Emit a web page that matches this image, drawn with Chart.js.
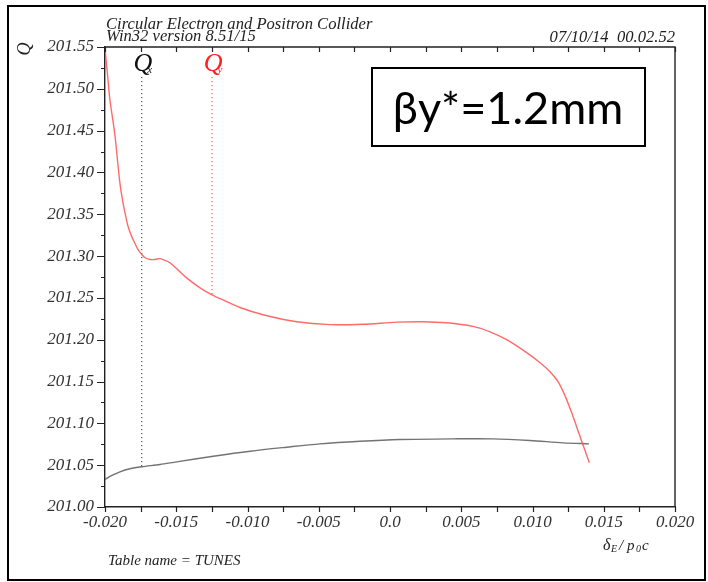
<!DOCTYPE html>
<html>
<head>
<meta charset="utf-8">
<script src="https://cdn.jsdelivr.net/npm/chart.js@4/dist/chart.umd.min.js"></script>
<style>
  html, body { margin: 0; padding: 0; background: #ffffff; }
  #wrap { width: 708px; height: 582px; position: relative; }
</style>
</head>
<body>
<div id="wrap"><canvas id="tunes" width="708" height="582"></canvas></div>
<script>
// Tune Q versus relative momentum deviation dE/(p0 c), table TUNES
const deltaQy = [-0.02000, -0.01982, -0.01965, -0.01947, -0.01930, -0.01912, -0.01895, -0.01877,
  -0.01860, -0.01839, -0.01812, -0.01789, -0.01766, -0.01742, -0.01719, -0.01684, -0.01649,
  -0.01614, -0.01579, -0.01544, -0.01488, -0.01427, -0.01333, -0.01249, -0.01158, -0.01053,
  -0.00891, -0.00655, -0.00421, -0.00189, 0.00047, 0.00232, 0.00398, 0.00582, 0.00702,
  0.00819, 0.00959, 0.01053, 0.01123, 0.01179, 0.01228, 0.01277, 0.01333, 0.01399];
const qyValues = [201.548, 201.516, 201.486, 201.465, 201.444, 201.414, 201.387, 201.367,
  201.352, 201.336, 201.323, 201.315, 201.307, 201.302, 201.298, 201.296, 201.296,
  201.297, 201.295, 201.292, 201.2835, 201.274, 201.262, 201.2537, 201.2465, 201.2385,
  201.2298, 201.2215, 201.218, 201.2185, 201.221, 201.2215, 201.2203, 201.216, 201.2095,
  201.200, 201.1845, 201.1725, 201.1618, 201.150, 201.1332, 201.1117, 201.0846, 201.0529];

const deltaQx = [-0.02000, -0.01951, -0.01895, -0.01825, -0.01742, -0.01614, -0.01497, -0.01240,
  -0.00982, -0.00725, -0.00491, -0.00211, 0.00070, 0.00442, 0.00723, 0.00982, 0.01216, 0.01396];
const qxValues = [201.0329, 201.0377, 201.0421, 201.0457, 201.0481, 201.0508, 201.054, 201.0607,
  201.0667, 201.0715, 201.0755, 201.0786, 201.0807, 201.0815, 201.0815, 201.0795, 201.0767, 201.0755];

// working-point markers (dotted verticals under the Qx / Qy labels)
const qxMark = -0.01742, qxMarkValue = 201.0481;
const qyMark = -0.01249, qyMarkValue = 201.2537;
const markTop = 201.514;

const xTickLabels = ['-0.020', '-0.015', '-0.010', '-0.005', '0.0', '0.005', '0.010', '0.015', '0.020'];
const yTickLabels = ['201.00', '201.05', '201.10', '201.15', '201.20', '201.25', '201.30',
  '201.35', '201.40', '201.45', '201.50', '201.55'];

const SERIF = '"Liberation Serif", "DejaVu Serif", serif';
const toPoints = (xs, ys) => xs.map((x, i) => ({ x: x, y: ys[i] }));

const decorations = {
  id: 'decorations',
  afterDraw(chart) {
    const ctx = chart.ctx;
    const xs = chart.scales.x, ys = chart.scales.y;
    const area = chart.chartArea;
    ctx.save();

    // outer frame
    ctx.strokeStyle = '#000';
    ctx.lineWidth = 2;
    ctx.strokeRect(8, 6, 697, 574);

    // top and right borders of the plot frame
    ctx.strokeStyle = '#222';
    ctx.lineWidth = 1.4;
    ctx.beginPath();
    ctx.moveTo(area.left, area.top); ctx.lineTo(area.right, area.top); ctx.lineTo(area.right, area.bottom);
    ctx.stroke();

    // tick marks
    ctx.lineWidth = 1.2;
    ctx.beginPath();
    for (let k = 0; k <= 16; k++) {
      const v = -0.02 + k * 0.0025;
      const px = Math.round(xs.getPixelForValue(v)) + 0.5;
      ctx.moveTo(px, area.bottom); ctx.lineTo(px, area.bottom + 5);
      ctx.moveTo(px, area.top); ctx.lineTo(px, area.top + 5);
    }
    for (let k = 0; k <= 22; k++) {
      const v = 201.0 + k * 0.025;
      const py = Math.round(ys.getPixelForValue(v)) + 0.5;
      const len = (k % 2 === 0) ? 8 : 4;
      ctx.moveTo(area.left - len, py); ctx.lineTo(area.left, py);
    }
    ctx.stroke();

    // header texts
    ctx.fillStyle = '#222';
    ctx.textBaseline = 'alphabetic';
    ctx.textAlign = 'left';
    ctx.font = 'italic 16.6px ' + SERIF;
    ctx.fillText('Circular Electron and Positron Collider', 106, 29);
    ctx.fillText('Win32 version 8.51/15', 106, 41);
    ctx.textAlign = 'right';
    ctx.fillText('07/10/14  00.02.52', 675, 42);

    // axis titles
    ctx.save();
    ctx.translate(30, 49);
    ctx.rotate(-Math.PI / 2);
    ctx.textAlign = 'center';
    ctx.font = 'italic 18px ' + SERIF;
    ctx.fillText('Q', 0, 0);
    ctx.restore();

    ctx.textAlign = 'left';
    ctx.font = 'italic 16px ' + SERIF;
    ctx.fillText('\u03B4', 603, 550);
    ctx.font = 'italic 10px ' + SERIF;
    ctx.fillText('E', 611, 552);
    ctx.font = 'italic 15px ' + SERIF;
    ctx.fillText('/ p', 619, 550);
    ctx.font = 'italic 10px ' + SERIF;
    ctx.fillText('0', 636, 552);
    ctx.font = 'italic 15px ' + SERIF;
    ctx.fillText('c', 642, 550);

    ctx.font = 'italic 15px ' + SERIF;
    ctx.fillText('Table name = TUNES', 108, 565);

    // Qx / Qy labels above the marker lines
    const qLabel = (v, sub, color) => {
      const px = xs.getPixelForValue(v);
      ctx.fillStyle = color;
      ctx.textAlign = 'center';
      ctx.font = 'italic 26px ' + SERIF;
      ctx.fillText('Q', px + 1, 71);
      ctx.font = 'italic 11px ' + SERIF;
      ctx.fillText(sub, px + 8, 73);
    };
    qLabel(qxMark, 'x', '#111');
    qLabel(qyMark, 'y', '#ff2020');

    // beta* annotation box
    ctx.fillStyle = '#fff';
    ctx.fillRect(372, 68, 273, 78);
    ctx.strokeStyle = '#000';
    ctx.lineWidth = 2;
    ctx.strokeRect(372, 68, 273, 78);
    ctx.fillStyle = '#000';
    ctx.textAlign = 'center';
    ctx.font = '45px Lato, "Liberation Sans", sans-serif';
    ctx.fillText('\u03B2y*=1.2mm', 508, 124);

    ctx.restore();
  }
};

new Chart(document.getElementById('tunes'), {
  type: 'line',
  data: {
    datasets: [
      {
        label: 'Qy',
        data: toPoints(deltaQy, qyValues),
        borderColor: 'rgba(255, 80, 80, 0.85)',
        borderWidth: 1.4,
        pointRadius: 0,
        tension: 0.3,
        fill: false
      },
      {
        label: 'Qx',
        data: toPoints(deltaQx, qxValues),
        borderColor: 'rgba(90, 90, 90, 0.85)',
        borderWidth: 1.4,
        pointRadius: 0,
        tension: 0.3,
        fill: false
      },
      {
        label: 'Qx mark',
        data: [{ x: qxMark, y: markTop }, { x: qxMark, y: qxMarkValue }],
        borderColor: '#111',
        borderWidth: 1,
        borderDash: [1, 3],
        pointRadius: 0,
        tension: 0
      },
      {
        label: 'Qy mark',
        data: [{ x: qyMark, y: markTop }, { x: qyMark, y: qyMarkValue }],
        borderColor: '#ff2020',
        borderWidth: 1,
        borderDash: [1, 3],
        pointRadius: 0,
        tension: 0
      }
    ]
  },
  options: {
    responsive: false,
    animation: false,
    devicePixelRatio: 1,
    layout: { padding: { left: 0, top: 47, right: 33, bottom: 0 } },
    plugins: { legend: { display: false }, tooltip: { enabled: false } },
    scales: {
      x: {
        type: 'linear',
        min: -0.02,
        max: 0.02,
        grid: { display: false, drawTicks: false, tickLength: 0 },
        border: { display: true, color: '#222', width: 1.4 },
        ticks: {
          stepSize: 0.005,
          autoSkip: false,
          maxRotation: 0,
          padding: 5,
          color: '#333',
          font: { family: SERIF, style: 'italic', size: 17 },
          callback: (v, i) => xTickLabels[i]
        },
        afterFit: (s) => { s.height = 75; }
      },
      y: {
        type: 'linear',
        min: 201.0,
        max: 201.55,
        grid: { display: false, drawTicks: false, tickLength: 0 },
        border: { display: true, color: '#222', width: 1.4 },
        ticks: {
          stepSize: 0.05,
          autoSkip: false,
          padding: 11,
          color: '#333',
          font: { family: SERIF, style: 'italic', size: 17 },
          callback: (v, i) => yTickLabels[i]
        },
        afterFit: (s) => { s.width = 105; }
      }
    }
  },
  plugins: [decorations]
});
</script>
</body>
</html>
